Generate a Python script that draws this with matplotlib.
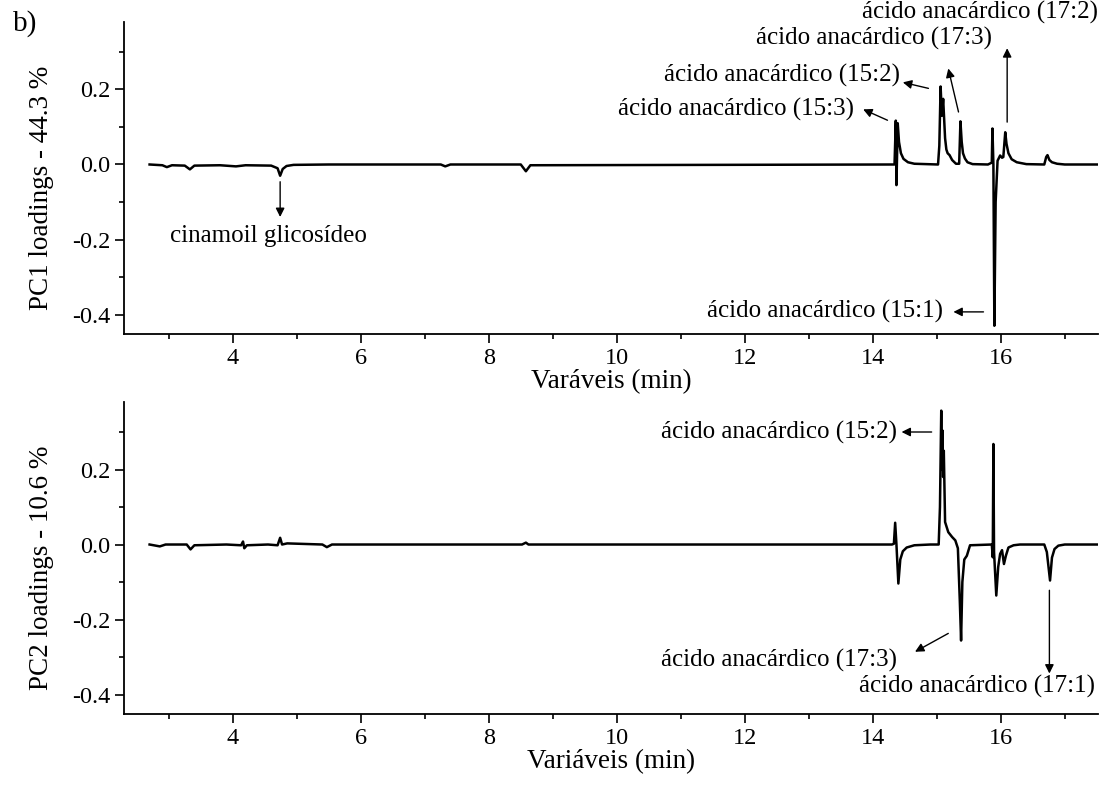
import matplotlib
matplotlib.use("Agg")
import matplotlib.pyplot as plt
from matplotlib.ticker import MultipleLocator, FormatStrFormatter

plt.rcParams['font.family'] = ['Liberation Serif', 'DejaVu Serif']
plt.rcParams['font.size'] = 18
plt.rcParams['axes.unicode_minus'] = False

# PC1 loadings (retention time in min, loading)
pc1_x = [2.70, 2.90, 2.97, 3.05, 3.25, 3.33, 3.40, 3.80, 4.05, 4.20, 4.60, 4.70, 4.74, 4.78, 4.84,
         4.95, 5.50, 7.25, 7.32, 7.40, 8.50, 8.58, 8.65, 14.30, 14.34, 14.36, 14.37, 14.39,
         14.41, 14.44, 14.48, 14.55, 14.65, 15.02, 15.04, 15.06, 15.08, 15.10, 15.13, 15.15,
         15.17, 15.20, 15.24, 15.30, 15.35, 15.37, 15.39, 15.41, 15.44, 15.48, 15.56, 15.80,
         15.86, 15.87, 15.885, 15.90, 15.92, 15.95, 15.99, 16.02, 16.04, 16.07, 16.09, 16.12,
         16.17, 16.25, 16.40, 16.68, 16.71, 16.73, 16.76, 16.80, 16.88, 17.00, 17.52]
pc1_y = [0.000, -0.002, -0.007, -0.002, -0.003, -0.013, -0.003, -0.002, -0.005, -0.002, -0.003,
         -0.010, -0.030, -0.012, -0.004, -0.001, 0.000, 0.000, -0.005, 0.000, 0.000, -0.018,
         -0.002, 0.000, 0.000, 0.117, -0.055, 0.110, 0.060, 0.030, 0.015, 0.006, 0.002, 0.000,
         0.050, 0.208, 0.130, 0.175, 0.070, 0.040, 0.030, 0.025, 0.012, 0.002, 0.002, 0.115,
         0.060, 0.030, 0.016, 0.006, 0.001, 0.000, 0.005, 0.096, 0.000, -0.430, -0.100, 0.010,
         0.024, 0.018, 0.020, 0.086, 0.055, 0.030, 0.014, 0.006, 0.001, 0.000, 0.020, 0.025,
         0.012, 0.006, 0.002, 0.000, 0.000]

# PC2 loadings
pc2_x = [2.70, 2.86, 2.95, 3.28, 3.34, 3.40, 3.90, 4.13, 4.16, 4.18, 4.22, 4.55, 4.70, 4.74,
         4.77, 4.85, 5.40, 5.47, 5.55, 8.52, 8.58, 8.62, 14.30, 14.33, 14.35, 14.37, 14.40,
         14.43, 14.47, 14.53, 14.65, 14.90, 15.03, 15.05, 15.07, 15.08, 15.09, 15.10, 15.11,
         15.13, 15.18, 15.24, 15.29, 15.33, 15.36, 15.38, 15.40, 15.43, 15.47, 15.52, 15.86,
         15.875, 15.885, 15.895, 15.93, 15.96, 15.99, 16.02, 16.05, 16.08, 16.12, 16.20, 16.30,
         16.68, 16.72, 16.77, 16.80, 16.84, 16.90, 17.00, 17.52]
pc2_y = [0.000, -0.005, 0.000, 0.000, -0.013, -0.002, 0.000, -0.002, 0.008, -0.010, -0.002,
         0.000, -0.002, 0.018, 0.000, 0.003, 0.000, -0.007, 0.000, 0.000, 0.005, 0.000, 0.000,
         0.002, 0.058, 0.000, -0.104, -0.040, -0.018, -0.008, -0.002, 0.000, 0.000, 0.100,
         0.357, 0.200, 0.304, 0.180, 0.250, 0.060, 0.033, 0.020, 0.011, -0.010, -0.150, -0.256,
         -0.100, -0.040, -0.030, -0.002, 0.000, -0.034, 0.268, -0.020, -0.136, -0.060, -0.025,
         -0.015, -0.052, -0.030, -0.008, -0.002, 0.000, 0.000, -0.020, -0.096, -0.035, -0.012,
         -0.003, 0.000, 0.000]

# labels: (text, text x, text y, arrow tail, arrow head)
pc1_labels = [
    ("ácido anacárdico (17:2)", 17.52, 0.406, (16.10, 0.113), (16.10, 0.310)),
    ("ácido anacárdico (17:3)", 15.86, 0.337, (15.34, 0.140), (15.18, 0.256)),
    ("ácido anacárdico (15:2)", 14.42, 0.238, (14.87, 0.203), (14.47, 0.219)),
    ("ácido anacárdico (15:3)", 13.71, 0.146, (14.23, 0.118), (13.85, 0.147)),
    ("ácido anacárdico (15:1)", 15.10, -0.393, (15.73, -0.393), (15.26, -0.393)),
]
pc2_labels = [
    ("ácido anacárdico (15:2)", 14.375, 0.300, (14.92, 0.300), (14.45, 0.300)),
    ("ácido anacárdico (17:3)", 14.375, -0.309, (15.18, -0.237), (14.66, -0.286)),
    ("ácido anacárdico (17:1)", 17.48, -0.378, (16.76, -0.122), (16.76, -0.344)),
]

fig = plt.figure(figsize=(11.06, 7.85), dpi=100)
ax1 = fig.add_axes([0.1121, 0.5745, 0.8807, 0.3975])
ax2 = fig.add_axes([0.1121, 0.0904, 0.8807, 0.3975])

arrow = dict(arrowstyle='-|>', color='black', lw=1.0, mutation_scale=13, shrinkA=0, shrinkB=0)

for ax, xs, ys, labels, xlab, ylab in [
        (ax1, pc1_x, pc1_y, pc1_labels, "Varáveis (min)", "PC1 loadings - 44.3 %"),
        (ax2, pc2_x, pc2_y, pc2_labels, "Variáveis (min)", "PC2 loadings - 10.6 %")]:
    ax.plot(xs, ys, color='black', lw=1.8, solid_joinstyle='round')
    ax.set_xlim(2.3, 17.52)
    ax.set_ylim(-0.452, 0.380)
    ax.spines['top'].set_visible(False)
    ax.spines['right'].set_visible(False)
    for s in ['left', 'bottom']:
        ax.spines[s].set_linewidth(1.3)
    ax.xaxis.set_major_locator(MultipleLocator(2))
    ax.xaxis.set_minor_locator(MultipleLocator(1))
    ax.yaxis.set_major_locator(MultipleLocator(0.2))
    ax.yaxis.set_minor_locator(MultipleLocator(0.1))
    ax.yaxis.set_major_formatter(FormatStrFormatter('%.1f'))
    ax.set_xticks([4, 6, 8, 10, 12, 14, 16])
    ax.tick_params(which='major', direction='out', length=6.5, width=1.2, labelsize=17.5)
    ax.tick_params(which='minor', direction='out', length=3.6, width=1.2)
    ax.set_xlabel(xlab, fontsize=19.5)
    ax.set_ylabel(ylab, fontsize=19.5)
    ax.xaxis.set_label_coords(0.5, -0.112)
    ax.yaxis.set_label_coords(-0.072, 0.468)
    for txt, tx, ty, tail, head in labels:
        ax.text(tx, ty, txt, ha='right', va='center', fontsize=18, clip_on=False)
        ax.annotate('', xy=head, xytext=tail, arrowprops=arrow, annotation_clip=False)

ax1.text(4.55, -0.191, "cinamoil glicosídeo", ha='center', va='center', fontsize=18)
ax1.annotate('', xy=(4.74, -0.140), xytext=(4.74, -0.046), arrowprops=arrow)

fig.text(13 / 1106, 1 - 24 / 785, "b)", ha='left', va='center', fontsize=21)

fig.savefig("out.png", dpi=100)
